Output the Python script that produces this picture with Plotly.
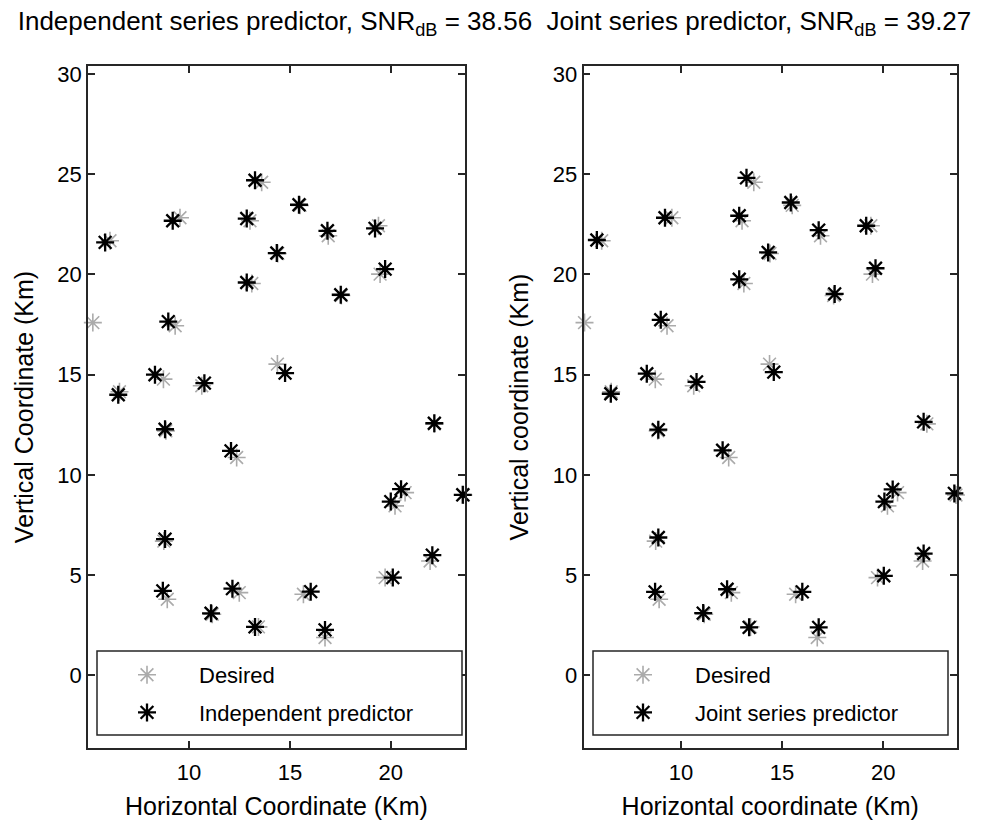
import plotly.graph_objects as go

# ---------------- data (km) ----------------
desired_x = [6.08, 9.55, 13.60, 13.02, 14.40, 13.11, 9.31, 5.23, 15.50, 16.90, 19.39, 19.47,
             17.55, 6.55, 8.73, 10.63, 14.38, 8.85, 12.36, 8.75, 8.92, 12.49, 11.15, 13.44,
             22.16, 20.71, 20.21, 23.60, 21.95, 19.72, 15.67, 16.74]
desired_y = [21.68, 22.83, 24.60, 22.68, 21.05, 19.55, 17.44, 17.60, 23.45, 21.93, 22.43, 20.02,
             18.95, 14.15, 14.78, 14.45, 15.53, 12.20, 10.87, 6.70, 3.80, 4.13, 3.05, 2.42,
             12.55, 9.12, 8.46, 9.00, 5.71, 4.88, 4.05, 1.89]

# independent predictor (one point falls outside the visible axes -> not readable)
indep_x = [5.84, 9.19, 13.27, 12.86, 14.35, 12.86, 8.97, None, 15.45, 16.86, 19.22, 19.72,
           17.52, 6.49, 8.31, 10.76, 14.76, 8.81, 12.08, 8.81, 8.70, 12.15, 11.09, 13.27,
           22.16, 20.51, 20.00, 23.57, 22.06, 20.10, 16.03, 16.74]
indep_y = [21.60, 22.68, 24.70, 22.79, 21.07, 19.60, 17.65, None, 23.48, 22.18, 22.30, 20.27,
           18.99, 14.00, 15.00, 14.58, 15.08, 12.28, 11.20, 6.80, 4.22, 4.33, 3.10, 2.42,
           12.58, 9.29, 8.67, 9.01, 6.00, 4.88, 4.18, 2.27]

joint_x = [5.84, 9.21, 13.24, 12.88, 14.31, 12.88, 9.00, 5.15, 15.43, 16.81, 19.16, 19.62,
           17.60, 6.53, 8.31, 10.77, 14.59, 8.88, 12.06, 8.88, 8.72, 12.28, 11.10, 13.37,
           22.00, 20.47, 20.06, 23.52, 22.00, 20.03, 16.00, 16.81]
joint_y = [21.72, 22.83, 24.82, 22.93, 21.10, 19.76, 17.74, 17.65, 23.59, 22.21, 22.43, 20.31,
           19.03, 14.05, 15.05, 14.64, 15.13, 12.26, 11.23, 6.88, 4.17, 4.30, 3.11, 2.40,
           12.65, 9.28, 8.67, 9.08, 6.08, 4.97, 4.17, 2.40]

x_ticks = [10, 15, 20]
y_ticks = [0, 5, 10, 15, 20, 25, 30]

FONT = "Liberation Sans, Arial, Helvetica, sans-serif"
GRAY = "#ababab"
BLACK = "#000000"
AXC = "#262626"

W, H = 989, 825
ML, MR, MT, MB = 88, 32, 66, 77
PW = W - ML - MR
PH = H - MT - MB


def px_x(p):
    return (p - ML) / PW


def px_y(p):
    return (H - MB - p) / PH


def star(color, width, size):
    return dict(symbol="asterisk-open", size=size, color=color,
                line=dict(color=color, width=width))


fig = go.Figure()
fig.add_trace(go.Scatter(x=desired_x, y=desired_y, mode="markers", name="Desired",
                         xaxis="x", yaxis="y", legend="legend", legendgroup="a",
                         marker=star(GRAY, 1.6, 15), cliponaxis=False))
fig.add_trace(go.Scatter(x=indep_x, y=indep_y, mode="markers", name="Independent predictor",
                         xaxis="x", yaxis="y", legend="legend", legendgroup="b",
                         marker=star(BLACK, 2.3, 15), cliponaxis=False))
fig.add_trace(go.Scatter(x=desired_x, y=desired_y, mode="markers", name="Desired",
                         xaxis="x2", yaxis="y2", legend="legend2", legendgroup="c",
                         marker=star(GRAY, 1.6, 15), cliponaxis=False))
fig.add_trace(go.Scatter(x=joint_x, y=joint_y, mode="markers", name="Joint series predictor",
                         xaxis="x2", yaxis="y2", legend="legend2", legendgroup="d",
                         marker=star(BLACK, 2.3, 15), cliponaxis=False))

axis_common = dict(showline=True, linecolor=AXC, linewidth=1.5, mirror="ticks",
                   ticks="inside", ticklen=7, tickwidth=1.5, tickcolor=AXC,
                   showgrid=False, zeroline=False, automargin=False,
                   tickfont=dict(family=FONT, size=22, color="black"))

xdom1 = [0, px_x(465)]
xdom2 = [px_x(583.5), 1]
TITLE_FS = 25

fig.update_layout(
    width=W, height=H,
    margin=dict(l=ML, r=MR, t=MT, b=MB),
    paper_bgcolor="white", plot_bgcolor="white",
    font=dict(family=FONT, size=22, color="black"),
    title=dict(text="Independent series predictor, SNR<sub>dB</sub> = 38.56\u00a0 Joint series predictor, SNR<sub>dB</sub> = 39.27",
               x=0.5, xref="container", xanchor="center",
               y=1 - 21 / H, yref="container", yanchor="middle",
               font=dict(family=FONT, size=26, color="black")),
    xaxis=dict(domain=xdom1, range=[4.99, 23.68], tickvals=x_ticks, anchor="y",
               ticklabelstandoff=4,
               title=dict(text="Horizontal Coordinate (Km)", standoff=13,
                          font=dict(family=FONT, size=TITLE_FS)), **axis_common),
    yaxis=dict(domain=[0, 1], range=[-3.62, 30.4], tickvals=y_ticks, anchor="x",
               title=dict(text="Vertical Coordinate (Km)", standoff=17,
                          font=dict(family=FONT, size=TITLE_FS)), **axis_common),
    xaxis2=dict(domain=xdom2, range=[5.18, 23.65], tickvals=x_ticks, anchor="y2",
                ticklabelstandoff=4,
                title=dict(text="Horizontal coordinate (Km)", standoff=13,
                           font=dict(family=FONT, size=TITLE_FS)), **axis_common),
    yaxis2=dict(domain=[0, 1], range=[-3.62, 30.4], tickvals=y_ticks, anchor="x2",
                title=dict(text="Vertical coordinate (Km)", standoff=17,
                           font=dict(family=FONT, size=TITLE_FS)), **axis_common),
    legend=dict(x=px_x(95), xanchor="left", y=px_y(654), yanchor="top",
                bgcolor="rgba(0,0,0,0)", borderwidth=0, itemwidth=94,
                tracegroupgap=6, font=dict(family=FONT, size=22, color="black")),
    legend2=dict(x=px_x(591), xanchor="left", y=px_y(654), yanchor="top",
                 bgcolor="rgba(0,0,0,0)", borderwidth=0, itemwidth=94,
                 tracegroupgap=6, font=dict(family=FONT, size=22, color="black")),
    shapes=[
        dict(type="rect", xref="x domain", yref="y domain",
             x0=(97 - 88) / 377, x1=(462 - 88) / 377,
             y0=(748 - 735) / 682, y1=(748 - 651) / 682,
             line=dict(color=AXC, width=1.5), fillcolor="white", layer="above"),
        dict(type="rect", xref="x2 domain", yref="y2 domain",
             x0=(593 - 583.5) / 373.5, x1=(948 - 583.5) / 373.5,
             y0=(748 - 735) / 682, y1=(748 - 651) / 682,
             line=dict(color=AXC, width=1.5), fillcolor="white", layer="above"),
    ],
)

fig.write_html("out.html")
